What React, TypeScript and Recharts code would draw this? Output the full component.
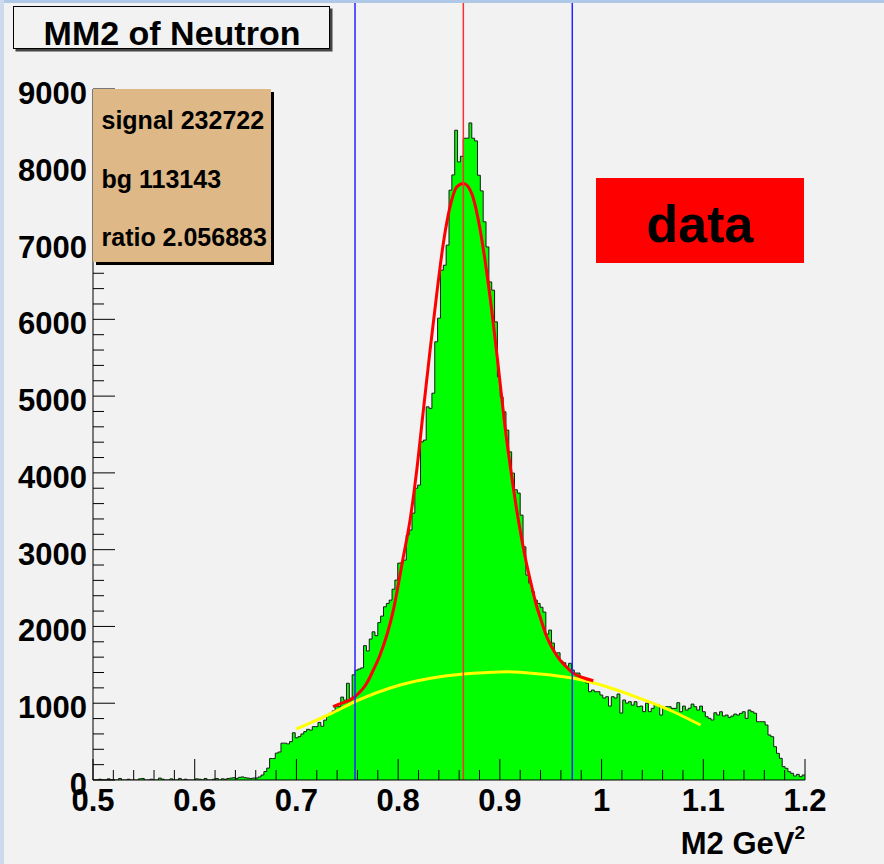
import React from "react";
import { ComposedChart, Area, Line, XAxis, YAxis, ReferenceLine } from "recharts";

// histogram binning (250 bins over 0.5 .. 1.2)
const X_MIN = 0.5;
const X_MAX = 1.2;
const BIN_WIDTH = 0.0028;
const Y_MAX = 9000;

const HIST_COUNTS = [
  0, 0, 10, 0, 0, 15, 0, 0, 0, 20,
  0, 0, 10, 0, 0, 0, 15, 20, 0, 0,
  10, 0, 0, 25, 10, 0, 0, 15, 0, 0,
  20, 0, 10, 0, 0, 0, 15, 10, 0, 20,
  0, 0, 10, 20, 0, 15, 10, 20, 25, 30,
  20, 35, 40, 30, 25, 20, 26, 26, 40, 65,
  110, 155, 280, 280, 350, 365, 480, 480, 470, 500,
  615, 550, 565, 600, 630, 660, 650, 695, 695, 750,
  700, 780, 835, 870, 900, 955, 955, 1080, 1040, 1260,
  1065, 1370, 1430, 1445, 1460, 1750, 1680, 1836, 1930, 1880,
  2050, 2135, 2256, 2300, 2343, 2485, 2604, 2825, 2830, 2864,
  3190, 3255, 3476, 3800, 3841, 4405, 4427, 4860, 4840, 5038,
  5707, 6015, 6640, 6705, 6966, 7682, 7881, 8463, 8050, 8124,
  8359, 8359, 8558, 8359, 8324, 7877, 7673, 7270, 6943, 6487,
  6380, 5967, 5251, 4990, 4795, 4557, 4274, 3997, 3780, 3737,
  3450, 3037, 2669, 2565, 2452, 2343, 2300, 2250, 2187, 1900,
  1953, 1784, 1653, 1657, 1550, 1527, 1480, 1520, 1432, 1393,
  1393, 1345, 1315, 1263, 1150, 1172, 1150, 1150, 1107, 1067,
  1085, 963, 1085, 1067, 1120, 872, 1042, 1002, 1020, 976,
  1020, 955, 963, 890, 1000, 890, 933, 976, 976, 846,
  941, 955, 955, 933, 933, 1007, 889, 963, 911, 935,
  989, 955, 911, 963, 889, 824, 803, 781, 876, 846,
  889, 833, 846, 816, 833, 859, 846, 868, 889, 803,
  911, 889, 870, 759, 759, 759, 716, 586, 564, 434,
  347, 282, 174, 152, 108, 87, 52, 74, 43, 65,
];

// signal + background fit (red)
const FIT_X = [
  0.736, 0.7396, 0.7576, 0.7691, 0.7756, 0.7822, 0.7953, 0.8051, 0.8117, 0.8183,
  0.8248, 0.8314, 0.838, 0.8444, 0.851, 0.8576, 0.8641, 0.8724, 0.8789, 0.8854,
  0.892, 0.8985, 0.9051, 0.9117, 0.9182, 0.9248, 0.9314, 0.9363, 0.9395, 0.9461,
  0.9526, 0.9592, 0.9658, 0.9723, 0.9821, 0.9919,
];
const FIT_Y = [
  955, 975, 1085, 1259, 1432, 1628, 2213, 2907, 3385, 4036,
  4817, 5599, 6337, 6988, 7464, 7725, 7769, 7638, 7291, 6770,
  6119, 5381, 4600, 3949, 3385, 2907, 2517, 2256, 2126, 1866,
  1693, 1562, 1467, 1389, 1332, 1293,
];

// background shape (yellow)
const BG_X = [0.7, 0.7344, 0.7576, 0.802, 0.8412, 0.8741, 0.9069, 0.9395, 0.9723, 1.0051, 1.0378, 1.0706, 1.0973];
const BG_Y = [664, 868, 1020, 1237, 1345, 1389, 1410, 1380, 1324, 1215, 1063, 889, 716];

// signal window and peak position
const CUT_LINES = [
  { key: "low", x: 0.7576, color: "#2626ff" },
  { key: "peak", x: 0.8641, color: "#ff3030" },
  { key: "high", x: 0.9712, color: "#2626ff" },
];
const LINE_TOP = 10120; // lines run up to the canvas edge

const X_MAJOR = [0.5, 0.6, 0.7, 0.8, 0.9, 1, 1.1, 1.2];
const Y_MAJOR = [0, 1000, 2000, 3000, 4000, 5000, 6000, 7000, 8000, 9000];

const STATS = ["signal 232722", "bg 113143", "ratio 2.056883"];

const xTicks: number[] = [];
for (let i = 0; i <= 35; i++) xTicks.push(Math.round((X_MIN + i * 0.02) * 1000) / 1000);
const yTicks: number[] = [];
for (let v = 0; v <= Y_MAX; v += 200) yTicks.push(v);

const histRows = HIST_COUNTS.map((c, i) => ({ x: X_MIN + i * BIN_WIDTH, count: c }));
histRows.push({ x: X_MAX, count: HIST_COUNTS[HIST_COUNTS.length - 1] });
const fitRows = FIT_X.map((x, i) => ({ x, fit: FIT_Y[i] }));
const bgRows = BG_X.map((x, i) => ({ x, bg: BG_Y[i] }));

const FONT = "'Liberation Sans', Arial, Helvetica, sans-serif";
const tickFont = { fontFamily: FONT, fontWeight: 700, fontSize: 31, fill: "#000" };

function XTick({ x, y, payload }: any) {
  const v = payload.value;
  const major = X_MAJOR.some((m) => Math.abs(m - v) < 1e-6);
  return (
    <g>
      <line x1={x} x2={x} y1={y} y2={y - (major ? 21 : 10)} stroke="#000" strokeWidth={1} />
      {major && (
        <text x={x} y={y + 31} textAnchor="middle" style={tickFont}>
          {String(v)}
        </text>
      )}
    </g>
  );
}

function YTick({ x, y, payload }: any) {
  const v = payload.value;
  const major = Y_MAJOR.includes(v);
  return (
    <g>
      <line x1={x} x2={x + (major ? 22 : 11)} y1={y} y2={y} stroke="#000" strokeWidth={1} />
      {major && (
        <text x={x - 6} y={y + 15} textAnchor="end" style={tickFont}>
          {String(v)}
        </text>
      )}
    </g>
  );
}

function AxisTitle({ viewBox }: any) {
  const { x, y, width } = viewBox;
  return (
    <text x={x + width} y={y + 74} textAnchor="end" style={tickFont}>
      M2 GeV
      <tspan fontSize={19} dy={-15}>2</tspan>
    </text>
  );
}

export default function App() {
  return (
    <div style={{ position: "absolute", left: 0, top: 0, width: 884, height: 864, background: "#f2f2f2" }}>
      <ComposedChart
        width={884}
        height={864}
        data={histRows}
        margin={{ top: 89, right: 79, bottom: 0, left: 0 }}
      >
        <XAxis
          dataKey="x"
          type="number"
          domain={[X_MIN, X_MAX]}
          ticks={xTicks}
          interval={0}
          tickSize={0}
          tickMargin={0}
          tick={XTick}
          height={84}
          axisLine={{ stroke: "#000", strokeWidth: 1 }}
          allowDataOverflow
          label={{ content: AxisTitle }}
        />
        {/* frame: top and right edges */}
        <XAxis
          xAxisId="frame"
          orientation="top"
          dataKey="x"
          type="number"
          domain={[X_MIN, X_MAX]}
          height={0}
          tick={false}
          tickLine={false}
          axisLine={{ stroke: "#666", strokeWidth: 1 }}
          allowDataOverflow
        />
        <YAxis
          type="number"
          domain={[0, Y_MAX]}
          ticks={yTicks}
          interval={0}
          tickSize={0}
          tickMargin={0}
          tick={YTick}
          width={93}
          axisLine={{ stroke: "#000", strokeWidth: 1 }}
          allowDataOverflow
        />
        <YAxis
          yAxisId="frame"
          orientation="right"
          type="number"
          domain={[0, Y_MAX]}
          width={0}
          tick={false}
          tickLine={false}
          axisLine={{ stroke: "#333", strokeWidth: 2 }}
          allowDataOverflow
        />
        <Area
          type="stepAfter"
          dataKey="count"
          stroke="#1a1a1a"
          strokeWidth={1}
          fill="#00ff00"
          fillOpacity={1}
          dot={false}
          activeDot={false}
          isAnimationActive={false}
        />
        <Line
          data={bgRows}
          dataKey="bg"
          type="monotone"
          stroke="#ffff00"
          strokeWidth={3}
          dot={false}
          activeDot={false}
          isAnimationActive={false}
        />
        <Line
          data={fitRows}
          dataKey="fit"
          type="monotone"
          stroke="#ff0000"
          strokeWidth={3}
          dot={false}
          activeDot={false}
          isAnimationActive={false}
        />
        {CUT_LINES.map((c) => (
          <ReferenceLine
            key={c.key}
            segment={[{ x: c.x, y: 0 }, { x: c.x, y: LINE_TOP }]}
            stroke={c.color}
            strokeWidth={1.5}
            ifOverflow="visible"
          />
        ))}
      </ComposedChart>

      <svg
        width={884}
        height={864}
        style={{ position: "absolute", left: 0, top: 0, pointerEvents: "none" }}
      >
        <rect x={0} y={0} width={884} height={3} fill="#b0c8e8" />
        <rect x={0} y={0} width={4} height={864} fill="#cddaee" />

        {/* title */}
        <rect x={15.5} y={8.5} width={317} height={43} fill="#444" />
        <rect x={13.5} y={6.5} width={316} height={42} fill="#f2f2f2" stroke="#000" strokeWidth={1} />
        <text x={172} y={45} textAnchor="middle" style={{ fontFamily: FONT, fontWeight: 700, fontSize: 34, fill: "#000" }}>
          MM2 of Neutron
        </text>

        {/* stats box */}
        <rect x={96} y={92} width={178} height={173} fill="#000" />
        <rect x={93} y={89} width={178} height={173} fill="#deb887" />
        {STATS.map((s, i) => (
          <text
            key={s}
            x={101.5}
            y={129 + i * 58.7}
            style={{ fontFamily: FONT, fontWeight: 700, fontSize: 25, fill: "#000" }}
          >
            {s}
          </text>
        ))}

        {/* data label */}
        <rect x={596} y={178} width={208} height={85} fill="#ff0000" />
        <text x={700} y={241.5} textAnchor="middle" style={{ fontFamily: FONT, fontWeight: 700, fontSize: 52, fill: "#000" }}>
          data
        </text>
      </svg>
    </div>
  );
}
